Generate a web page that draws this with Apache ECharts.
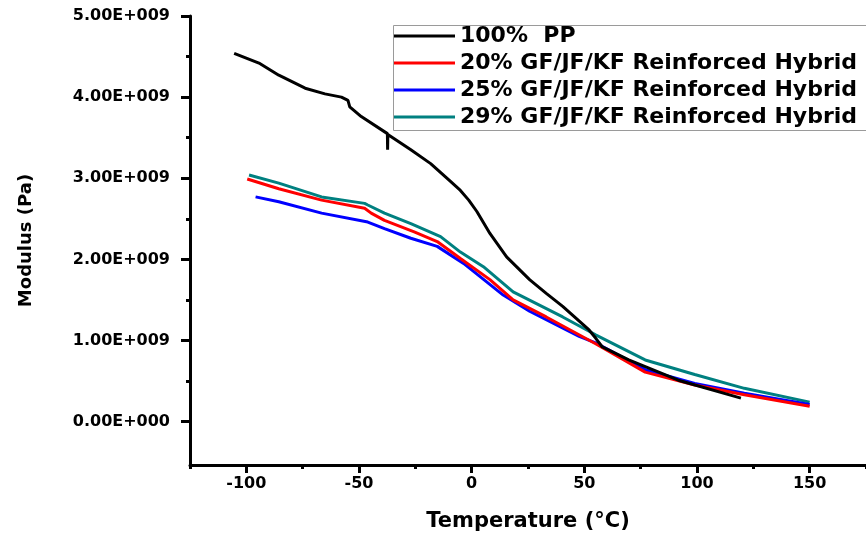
<!DOCTYPE html>
<html>
<head>
<meta charset="utf-8">
<script src="https://cdn.jsdelivr.net/npm/echarts@6/dist/echarts.min.js"></script>
<style>html,body{margin:0;padding:0;background:#fff}#c{width:866px;height:538px}</style>
</head>
<body>
<div id="c"></div>
<script>
const seriesNames = ['100%  PP', '20% GF/JF/KF Reinforced Hybrid', '25% GF/JF/KF Reinforced Hybrid', '29% GF/JF/KF Reinforced Hybrid'];
const seriesColors = ['#000000', '#ff0000', '#0000ff', '#008080'];

const xTickLabels = [-100, -50, 0, 50, 100, 150];
const xMinorTicks = [-125, -75, -25, 25, 75, 125, 175];
const yTickLabels = [0, 1e9, 2e9, 3e9, 4e9, 5e9];
const yMinorTicks = [0.5e9, 1.5e9, 2.5e9, 3.5e9, 4.5e9];

const ppTemp = [-105.4, -94.4, -85.6, -73.9, -65.1, -57.8, -54.9, -54.1, -49.0, -37.4, -37.3, -37.2, -27.0, -18.2, -9.4, -5.0, -1.3, 2.3, 8.1, 15.5, 25.7, 33.1, 40.4, 52.1, 55.0, 58.0, 69.7, 91.7, 119.5];
const ppMod = [4.54e9, 4.42e9, 4.27e9, 4.11e9, 4.04e9, 4.00e9, 3.96e9, 3.88e9, 3.76e9, 3.55e9, 3.35e9, 3.54e9, 3.35e9, 3.18e9, 2.96e9, 2.85e9, 2.73e9, 2.59e9, 2.32e9, 2.03e9, 1.75e9, 1.58e9, 1.42e9, 1.13e9, 1.03e9, 0.92e9, 0.76e9, 0.51e9, 0.29e9];

const gf20Temp = [-99.6, -85.6, -66.6, -47.5, -44.6, -38.7, -25.5, -15.3, -5.0, 8.1, 18.4, 33.1, 55.0, 77.0, 99.0, 121.0, 150.0];
const gf20Mod = [2.99e9, 2.87e9, 2.73e9, 2.63e9, 2.57e9, 2.48e9, 2.34e9, 2.22e9, 2.01e9, 1.75e9, 1.50e9, 1.29e9, 0.96e9, 0.61e9, 0.45e9, 0.33e9, 0.19e9];

const gf25Temp = [-95.9, -85.6, -66.6, -46.1, -38.7, -27.0, -15.3, -3.6, 14.0, 25.7, 47.7, 55.0, 77.0, 99.0, 121.0, 150.0];
const gf25Mod = [2.77e9, 2.71e9, 2.57e9, 2.46e9, 2.38e9, 2.26e9, 2.16e9, 1.95e9, 1.56e9, 1.36e9, 1.05e9, 0.97e9, 0.64e9, 0.47e9, 0.35e9, 0.21e9];

const gf29Temp = [-98.8, -85.6, -66.6, -47.5, -46.1, -38.7, -27.0, -13.8, -5.0, 5.2, 18.4, 40.4, 55.0, 77.0, 99.0, 121.0, 150.0];
const gf29Mod = [3.04e9, 2.94e9, 2.77e9, 2.69e9, 2.67e9, 2.57e9, 2.44e9, 2.28e9, 2.09e9, 1.91e9, 1.60e9, 1.29e9, 1.07e9, 0.76e9, 0.58e9, 0.41e9, 0.24e9];

const temps = [ppTemp, gf20Temp, gf25Temp, gf29Temp];
const mods = [ppMod, gf20Mod, gf25Mod, gf29Mod];

const FONT = 'DejaVu Sans';
const chart = echarts.init(document.getElementById('c'), null, {renderer: 'canvas'});

function fmtY(v) {
  if (v === 0) return '0.00E+000';
  return (v / 1e9).toFixed(2) + 'E+009';
}

const series = seriesNames.map((name, i) => ({
  name: name,
  type: 'line',
  xAxisIndex: 0,
  yAxisIndex: 0,
  symbol: 'none',
  showSymbol: false,
  smooth: false,
  color: seriesColors[i],
  lineStyle: {width: 3, color: seriesColors[i]},
  data: temps[i].map((t, j) => [t, mods[i][j]]),
  z: 10 - i
}));

const option = {
  animation: false,
  backgroundColor: '#ffffff',
  grid: {left: 190, top: 16, width: 682, height: 449, containLabel: false},
  xAxis: [{
    type: 'value', min: -125, max: 175,
    position: 'bottom',
    name: 'Temperature (\u00B0C)', nameLocation: 'middle', nameGap: 46,
    nameTextStyle: {fontFamily: FONT, fontWeight: 'bold', fontSize: 21, color: '#000'},
    axisLine: {show: true, onZero: false, lineStyle: {color: '#000', width: 3}},
    axisTick: {show: true, inside: false, length: 8, customValues: xTickLabels, lineStyle: {color: '#000', width: 3}},
    axisLabel: {show: true, margin: 11, customValues: xTickLabels, fontFamily: FONT, fontWeight: 'bold', fontSize: 16, color: '#000'},
    splitLine: {show: false}
  }, {
    type: 'value', min: -125, max: 175,
    gridIndex: 0, position: 'bottom',
    axisLine: {show: false, onZero: false},
    axisTick: {show: true, inside: false, length: 4, customValues: xMinorTicks, lineStyle: {color: '#000', width: 3}},
    axisLabel: {show: false},
    splitLine: {show: false}
  }],
  yAxis: [{
    type: 'value', min: -0.535e9, max: 5e9,
    position: 'left',
    name: 'Modulus (Pa)', nameLocation: 'middle', nameGap: 155,
    nameTextStyle: {fontFamily: FONT, fontWeight: 'bold', fontSize: 18, color: '#000'},
    axisLine: {show: true, onZero: false, lineStyle: {color: '#000', width: 3}},
    axisTick: {show: true, inside: false, length: 9, customValues: yTickLabels, lineStyle: {color: '#000', width: 3}},
    axisLabel: {show: true, margin: 20, customValues: yTickLabels, formatter: fmtY, fontFamily: FONT, fontWeight: 'bold', fontSize: 16, color: '#000'},
    splitLine: {show: false}
  }, {
    type: 'value', min: -0.535e9, max: 5e9,
    gridIndex: 0, position: 'left',
    axisLine: {show: false, onZero: false},
    axisTick: {show: true, inside: false, length: 4, customValues: yMinorTicks, lineStyle: {color: '#000', width: 3}},
    axisLabel: {show: false},
    splitLine: {show: false}
  }],
  legend: {
    show: true,
    orient: 'vertical',
    left: 393, top: 24,
    padding: 0,
    itemGap: 3,
    icon: 'rect',
    itemWidth: 62, itemHeight: 3,
    textStyle: {fontFamily: FONT, fontWeight: 'bold', fontSize: 22, color: '#000', lineHeight: 24},
    data: seriesNames
  },
  graphic: [{
    type: 'rect', left: 391, top: 23, z: 100, silent: true,
    shape: {width: 480, height: 105},
    style: {fill: 'none', stroke: '#9a9a9a', lineWidth: 1}
  }],
  series: series
};
chart.setOption(option);
</script>
</body>
</html>
